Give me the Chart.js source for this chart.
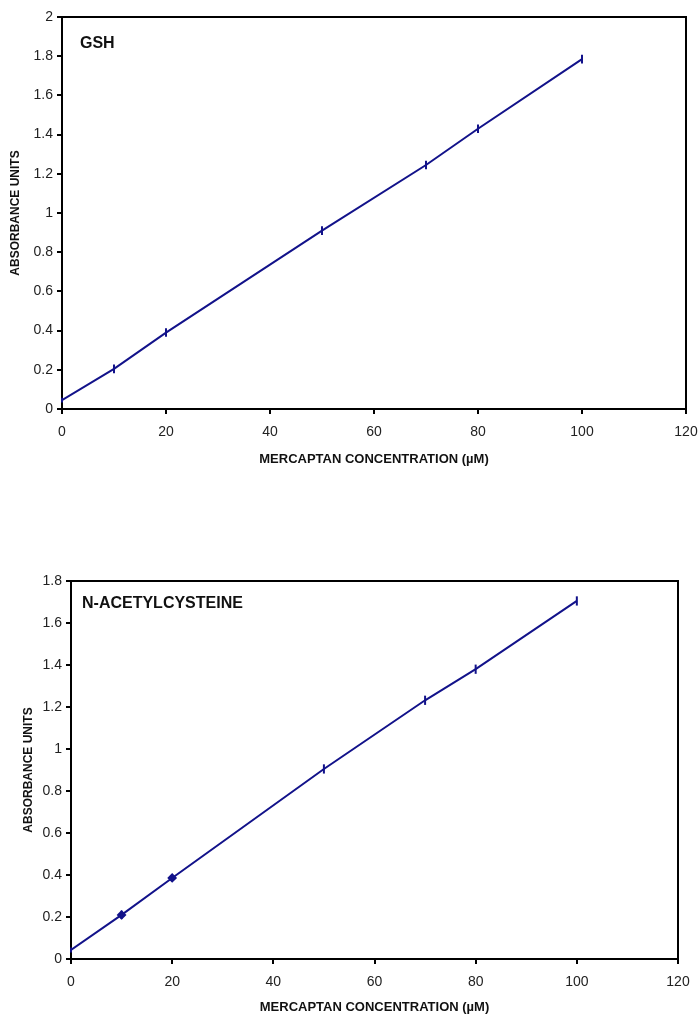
<!DOCTYPE html>
<html>
<head>
<meta charset="utf-8">
<script src="https://cdn.jsdelivr.net/npm/chart.js@4/dist/chart.umd.min.js"></script>
<style>
  body { margin: 0; background: #fff; width: 699px; height: 1015px; position: relative; overflow: hidden; }
  canvas { position: absolute; left: 0; }
  #gsh-chart { top: 0; }
  #nac-chart { top: 560px; }
</style>
</head>
<body>
<canvas id="gsh-chart" width="699" height="470"></canvas>
<canvas id="nac-chart" width="699" height="455"></canvas>
<script>
// valores
const concentrations = [0, 10, 20, 50, 70, 80, 100];
const gshAbsorbance = [0.045, 0.205, 0.39, 0.91, 1.245, 1.43, 1.785];
const gshError = [0.012, 0.022, 0.022, 0.022, 0.022, 0.022, 0.022];
const nacAbsorbance = [0.043, 0.21, 0.386, 0.905, 1.232, 1.38, 1.705];
const nacError = [0.012, 0.02, 0.015, 0.022, 0.022, 0.022, 0.022];
const xTicks = [0, 20, 40, 60, 80, 100, 120];

const NAVY = '#12128a';
const FONT = "'Liberation Sans', Arial, sans-serif";

// barras de error verticales
const errorBarsPlugin = {
    id: 'errorBars',
    afterDatasetsDraw(chart, args, opts) {
        const { ctx, scales } = chart;
        ctx.save();
        ctx.strokeStyle = NAVY;
        ctx.lineWidth = 2;
        chart.data.datasets[0].data.forEach((p, i) => {
            const e = opts.errors[i];
            const px = scales.x.getPixelForValue(p.x);
            ctx.beginPath();
            ctx.moveTo(px, scales.y.getPixelForValue(p.y - e));
            ctx.lineTo(px, scales.y.getPixelForValue(p.y + e));
            ctx.stroke();
        });
        ctx.restore();
    }
};

// marco superior y derecho + rotulo del panel
const framePlugin = {
    id: 'frame',
    afterDraw(chart, args, opts) {
        const { ctx, chartArea: a } = chart;
        ctx.save();
        ctx.strokeStyle = '#000';
        ctx.lineWidth = 2;
        ctx.beginPath();
        ctx.moveTo(a.left, a.top);
        ctx.lineTo(a.right, a.top);
        ctx.lineTo(a.right, a.bottom);
        ctx.stroke();
        ctx.fillStyle = '#111';
        ctx.font = 'bold 16px ' + FONT;
        ctx.textBaseline = 'middle';
        ctx.fillText(opts.label, a.left + opts.dx, a.top + opts.dy);
        ctx.restore();
    }
};

function makeChart(id, values, errors, yMax, cfg) {
    const points = concentrations.map((c, i) => ({ x: c, y: values[i] }));
    return new Chart(document.getElementById(id), {
        type: 'line',
        data: {
            datasets: [{
                data: points,
                borderColor: NAVY,
                backgroundColor: NAVY,
                borderWidth: 2,
                pointStyle: 'rectRot',
                pointRadius: cfg.pointRadius,
                tension: 0
            }]
        },
        options: {
            responsive: false,
            animation: false,
            layout: { padding: { top: cfg.padTop, right: cfg.padRight, left: 0, bottom: 0 } },
            plugins: {
                legend: { display: false },
                tooltip: { enabled: false },
                errorBars: { errors },
                frame: { label: cfg.label, dx: cfg.labelDx, dy: cfg.labelDy }
            },
            scales: {
                x: {
                    type: 'linear',
                    min: 0, max: 120,
                    afterBuildTicks: axis => { axis.ticks = xTicks.map(v => ({ value: v })); },
                    afterFit: axis => {
                        axis.height = cfg.xHeight;
                        axis.paddingLeft = 0;
                        axis.paddingRight = 0;
                    },
                    grid: { drawOnChartArea: false, tickLength: 5, color: '#000', lineWidth: 2 },
                    border: { color: '#000', width: 2 },
                    ticks: { color: '#222', font: { family: FONT, size: 14 }, padding: 10, maxRotation: 0 },
                    title: {
                        display: true,
                        text: 'MERCAPTAN CONCENTRATION (µM)',
                        color: '#111',
                        font: { family: FONT, size: 13, weight: 'bold' },
                        padding: { top: 0, bottom: cfg.xTitlePad }
                    }
                },
                y: {
                    min: 0, max: yMax,
                    ticks: {
                        stepSize: 0.2,
                        color: '#222',
                        font: { family: FONT, size: 14 },
                        padding: 4,
                        callback: v => String(Number(v.toFixed(1)))
                    },
                    afterFit: axis => { axis.width = cfg.yWidth; },
                    grid: { drawOnChartArea: false, tickLength: 5, color: '#000', lineWidth: 2 },
                    border: { color: '#000', width: 2 },
                    title: {
                        display: true,
                        text: 'ABSORBANCE UNITS',
                        color: '#111',
                        font: { family: FONT, size: 12, weight: 'bold' },
                        padding: { top: cfg.yTitlePad, bottom: 0 }
                    }
                }
            }
        },
        plugins: [errorBarsPlugin, framePlugin]
    });
}

makeChart('gsh-chart', gshAbsorbance, gshError, 2, {
    label: 'GSH', labelDx: 18, labelDy: 27,
    padTop: 17, padRight: 13, xHeight: 61, yWidth: 62,
    xTitlePad: 3, yTitlePad: 8,
    pointRadius: 0
});

makeChart('nac-chart', nacAbsorbance, nacError, 1.8, {
    label: 'N-ACETYLCYSTEINE', labelDx: 11, labelDy: 23,
    padTop: 21, padRight: 21, xHeight: 56, yWidth: 71,
    xTitlePad: 0, yTitlePad: 21,
    pointRadius: [0, 3.5, 3.5, 0, 0, 0, 0]
});
</script>
</body>
</html>
